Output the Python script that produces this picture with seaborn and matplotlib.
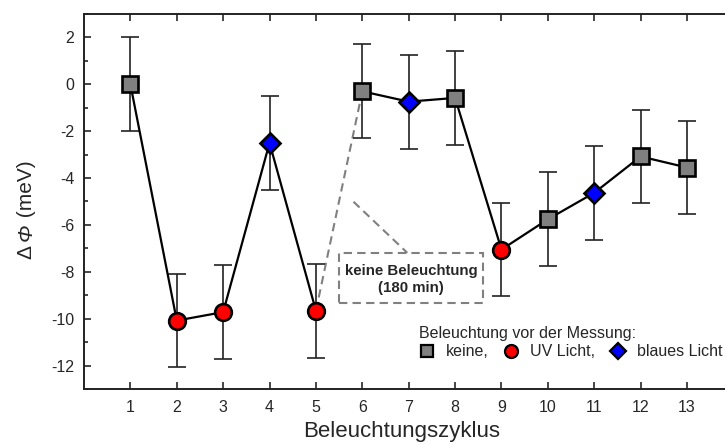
import numpy as np
import pandas as pd
import matplotlib
matplotlib.use('Agg')
import matplotlib.pyplot as plt
from matplotlib.lines import Line2D
from matplotlib.patches import Rectangle
from matplotlib.transforms import IdentityTransform
import seaborn as sns

# values
cycles = [1, 2, 3, 4, 5, 6, 7, 8, 9, 10, 11, 12, 13]
dphi = [0.0, -10.08, -9.72, -2.5, -9.66, -0.3, -0.74, -0.58, -7.05, -5.76, -4.63, -3.08, -3.55]
err = [2, 2, 2, 2, 2, 2, 2, 2, 2, 2, 2, 2, 2]
light = ['keine', 'UV', 'UV', 'blau', 'UV', 'keine', 'blau', 'keine',
         'UV', 'keine', 'blau', 'keine', 'keine']
segment = [0, 0, 0, 0, 0, 1, 1, 1, 1, 1, 1, 1, 1]
legend_labels = ['keine,', 'UV Licht,', 'blaues Licht']

df = pd.DataFrame({'Zyklus': cycles, 'dphi': dphi, 'err': err,
                   'light': light, 'segment': segment})

sns.set_style('ticks')
plt.rcParams['font.family'] = ['Liberation Sans', 'DejaVu Sans']

fig = plt.figure(figsize=(7.25, 4.44), dpi=100)
ax = fig.add_axes([84 / 725, 1 - 389 / 444, 649.4 / 725, 375 / 444])

colors = {'keine': '#808080', 'UV': '#ff0000', 'blau': '#0000ff'}
markers = {'keine': 's', 'UV': 'o', 'blau': 'D'}
sizes = {'keine': 11, 'UV': 12, 'blau': 10}

# error bars
ax.errorbar(df['Zyklus'], df['dphi'], yerr=df['err'], fmt='none',
            ecolor='#222222', elinewidth=1.2, capsize=6.4, capthick=1.2, zorder=2)

# connecting lines (two segments)
sns.lineplot(data=df, x='Zyklus', y='dphi', units='segment', estimator=None,
             color='black', linewidth=1.6, ax=ax, zorder=3, sort=False)

# dashed callout
ax.plot([5, 6], [dphi[4], dphi[5]], color='#808080', lw=1.5, dashes=(4, 2.5), zorder=1)
ax.plot([5.81, 6.97], [-5.01, -7.19], color='#808080', lw=1.5, dashes=(4, 2.5), zorder=1)
ax.add_patch(Rectangle((5.49, -9.33), 3.12, 2.14, fill=False, edgecolor='#808080',
                       lw=1.5, linestyle=(0, (4, 2.5)), zorder=1))
ax.text(7.05, -8.33, 'keine Beleuchtung\n(180 min)', ha='center', va='center',
        fontsize=10.8, fontweight='bold', linespacing=1.25, zorder=4)

# markers
for key in ['keine', 'UV', 'blau']:
    sub = df[df['light'] == key]
    ax.plot(sub['Zyklus'], sub['dphi'], linestyle='none', marker=markers[key],
            markersize=sizes[key], markerfacecolor=colors[key],
            markeredgecolor='black', markeredgewidth=1.9, zorder=5)

ax.set_xlim(0, 14)
ax.set_ylim(-13, 3)
ax.set_xticks(cycles)
ax.set_yticks(np.arange(-12, 3, 2))
ax.set_yticks(np.arange(-13, 4, 1), minor=True)
ax.set_yticklabels([str(v) for v in range(-12, 3, 2)])
ax.tick_params(axis='both', direction='in', labelsize=11.5, width=1.2, length=5,
               top=True, right=True)
ax.tick_params(axis='x', pad=8)
ax.tick_params(axis='y', pad=7)
ax.tick_params(axis='y', which='minor', direction='in', width=1.2, length=3, right=True)
for s in ax.spines.values():
    s.set_linewidth(1.4)
    s.set_color('#222222')

ax.set_xlabel('Beleuchtungszyklus', fontsize=16)
ax.xaxis.set_label_coords((401 - 83.6) / 649.4, (389 - 421) / 375)
ax.set_ylabel('')

# y label "Δ Φ (meV)" with italic Φ, built from rotated pieces
renderer = fig.canvas.get_renderer()
parts = [('Δ ', 'normal'), ('Φ', 'italic'), (' (meV)', 'normal')]
widths = []
for txt, style in parts:
    t = fig.text(0, 0, txt, fontsize=15, style=style)
    widths.append(t.get_window_extent(renderer).width)
    t.remove()
y0 = (444 - 210) - sum(widths) / 2
for (txt, style), w in zip(parts, widths):
    fig.text(32, y0, txt, fontsize=15, style=style, rotation=90,
             rotation_mode='anchor', ha='left', va='baseline',
             transform=IdentityTransform())
    y0 += w

handles = [Line2D([], [], linestyle='none', marker=markers[k], markersize=sizes[k] * 0.78,
                  markerfacecolor=colors[k], markeredgecolor='black', markeredgewidth=1.6)
           for k in ['keine', 'UV', 'blau']]
leg = ax.legend(handles, legend_labels, title='Beleuchtung vor der Messung:',
                ncol=3, loc='upper left', bbox_to_anchor=(419 / 725, 1 - 326 / 444),
                bbox_transform=fig.transFigure, frameon=False, fontsize=11.5,
                title_fontsize=11.5, handlelength=1.0, handletextpad=0.7,
                columnspacing=0.9, borderpad=0, borderaxespad=0, alignment='left',
                labelspacing=0.2)

fig.savefig('out.png', dpi=100)
